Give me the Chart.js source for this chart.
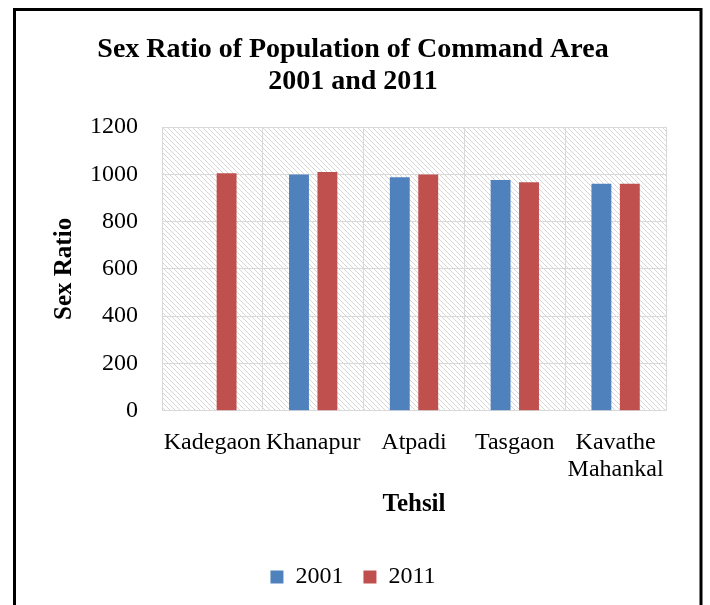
<!DOCTYPE html>
<html>
<head>
<meta charset="utf-8">
<script src="https://cdn.jsdelivr.net/npm/chart.js@4.4.1/dist/chart.umd.min.js"></script>
<style>
  html, body { margin: 0; padding: 0; background: #fff; }
  #wrap { width: 710px; height: 605px; }
</style>
</head>
<body>
<div id="wrap"><canvas id="chartSex" width="710" height="605"></canvas></div>
<script>
"use strict";

// --- data ---
const tehsils   = ["Kadegaon", "Khanapur", "Atpadi", "Tasgaon", ["Kavathe", "Mahankal"]];
const ratio2001 = [null, 999, 987, 976, 960];
const ratio2011 = [1004, 1010, 999, 966, 960];
const yTicks    = [0, 200, 400, 600, 800, 1000, 1200];

const FONT = "'Liberation Serif', 'Times New Roman', serif";
const BLUE = "#4F81BD";
const RED  = "#C0504D";

// hatch pattern for the plot area
function makeHatch() {
    const s = 5;
    const c = document.createElement("canvas");
    c.width = s; c.height = s;
    const g = c.getContext("2d");
    g.fillStyle = "#fff";
    g.fillRect(0, 0, s, s);
    g.strokeStyle = "#d6d6d6";
    g.lineWidth = 1;
    g.beginPath();
    g.moveTo(-1, -1); g.lineTo(s + 1, s + 1);
    g.moveTo(-1, s - 1); g.lineTo(1, s + 1);
    g.moveTo(s - 1, -1); g.lineTo(s + 1, 1);
    g.stroke();
    return c;
}

const hatchPlugin = {
    id: "hatch",
    beforeDraw(chart) {
        const { ctx, chartArea: a } = chart;
        ctx.save();
        ctx.fillStyle = ctx.createPattern(makeHatch(), "repeat");
        ctx.fillRect(a.left, a.top, a.right - a.left, a.bottom - a.top);
        ctx.restore();
    }
};

// black frame round the chart (open at the bottom)
const framePlugin = {
    id: "frame",
    afterDraw(chart) {
        const ctx = chart.ctx;
        ctx.save();
        ctx.strokeStyle = "#000";
        ctx.lineWidth = 3;
        ctx.beginPath();
        ctx.moveTo(14.5, 640);
        ctx.lineTo(14.5, 9.5);
        ctx.lineTo(701, 9.5);
        ctx.lineTo(701, 640);
        ctx.stroke();
        ctx.restore();
    }
};

new Chart(document.getElementById("chartSex"), {
    type: "bar",
    data: {
        labels: tehsils,
        datasets: [
            { label: "2001", data: ratio2001, backgroundColor: BLUE, borderWidth: 0 },
            { label: "2011", data: ratio2011, backgroundColor: RED,  borderWidth: 0 }
        ]
    },
    options: {
        responsive: false,
        animation: false,
        datasets: { bar: { categoryPercentage: 0.564, barPercentage: 0.70 } },
        layout: { padding: { left: 40, right: 44, top: 0, bottom: 6 } },
        plugins: {
            title: {
                display: true,
                text: ["Sex Ratio of Population of Command Area", "2001 and 2011"],
                color: "#000",
                font: { family: FONT, size: 28, weight: "bold", lineHeight: "32px" },
                padding: { top: 34, bottom: 29 }
            },
            legend: {
                position: "bottom",
                labels: {
                    color: "#000",
                    font: { family: FONT, size: 24 },
                    boxWidth: 13, boxHeight: 13,
                    padding: 20
                }
            },
            tooltip: { enabled: false }
        },
        scales: {
            x: {
                grid: { color: "#d9d9d9", drawTicks: false },
                border: { color: "#d9d9d9" },
                ticks: {
                    color: "#000", autoSkip: false, maxRotation: 0,
                    font: { family: FONT, size: 24, lineHeight: "26.4px" },
                    padding: 19
                },
                title: {
                    display: true, text: "Tehsil", color: "#000",
                    font: { family: FONT, size: 25, weight: "bold", lineHeight: "26.4px" },
                    padding: { top: -10, bottom: 27 }
                }
            },
            y: {
                min: 0, max: 1200,
                afterBuildTicks: s => { s.ticks = yTicks.map(v => ({ value: v })); },
                afterFit: s => { s.width = 122; },
                grid: { color: "#d9d9d9", drawTicks: false },
                border: { color: "#d9d9d9" },
                ticks: {
                    color: "#000",
                    font: { family: FONT, size: 24 },
                    padding: 24,
                    callback: v => String(v)
                },
                title: {
                    display: true, text: "Sex Ratio", color: "#000",
                    font: { family: FONT, size: 25, weight: "bold", lineHeight: "26.4px" },
                    padding: { top: 11, bottom: 0 }
                }
            }
        }
    },
    plugins: [hatchPlugin, framePlugin]
});
</script>
</body>
</html>
